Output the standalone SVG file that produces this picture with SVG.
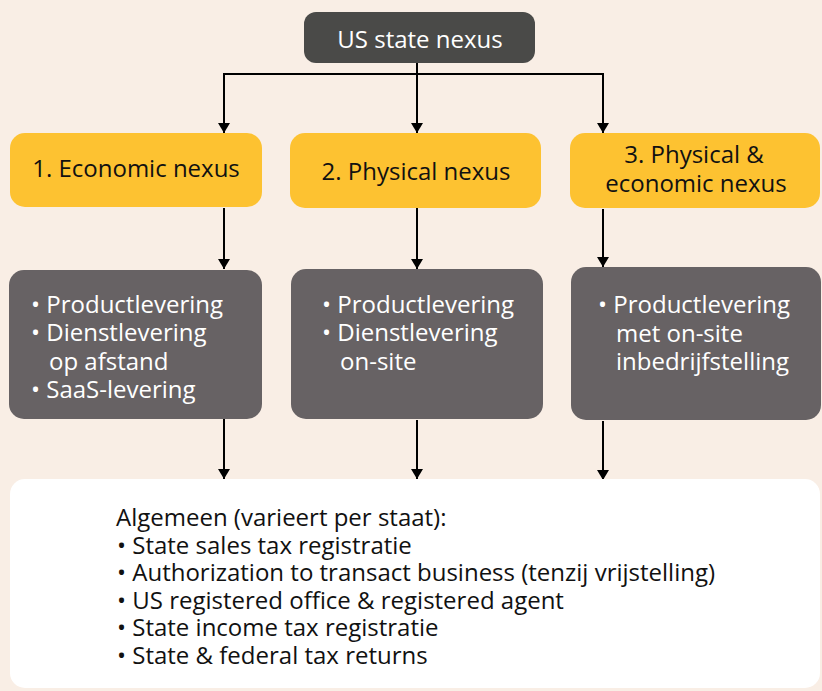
<svg xmlns="http://www.w3.org/2000/svg" width="822" height="691" viewBox="0 0 822 691">
<defs>
<marker id="arr" markerUnits="userSpaceOnUse" markerWidth="10" markerHeight="12" refX="10" refY="6" orient="auto" viewBox="0 0 10 12">
<path d="M0,0 L10,6 L0,12 Z" fill="#000"/>
</marker>
<style>
text{font-family:"Open Sans","Noto Sans","Liberation Sans",sans-serif;font-size:24px}
.w{fill:#ffffff}
.k{fill:#111111}
.yel{fill:#fdc231}
.gry{fill:#676264}
.ln{stroke:#000;stroke-width:2;fill:none}
</style>
</defs>
<rect x="0" y="0" width="822" height="691" fill="#f9eee5"/>
<g id="connectors">
<path class="ln" d="M417,63 V74 M223,74 H604"/>
<path class="ln" d="M224,74 V133" marker-end="url(#arr)"/>
<path class="ln" d="M417,74 V133" marker-end="url(#arr)"/>
<path class="ln" d="M603,74 V133" marker-end="url(#arr)"/>
<path class="ln" d="M224,208 V269" marker-end="url(#arr)"/>
<path class="ln" d="M417,208 V269" marker-end="url(#arr)"/>
<path class="ln" d="M603,209 V267" marker-end="url(#arr)"/>
<path class="ln" d="M224,419 V479" marker-end="url(#arr)"/>
<path class="ln" d="M417,420 V479" marker-end="url(#arr)"/>
<path class="ln" d="M603,421 V480" marker-end="url(#arr)"/>
</g>
<g id="top">
<rect x="304" y="12" width="231" height="51" rx="12" fill="#4a4a48"/>
<text x="420" y="48" text-anchor="middle" class="w">US state nexus</text>
</g>
<g id="economic">
<rect class="yel" x="10" y="133" width="252" height="74" rx="15"/>
<text x="136" y="177" text-anchor="middle" class="k">1. Economic nexus</text>
</g>
<g id="physical">
<rect class="yel" x="290" y="133" width="251" height="75" rx="15"/>
<text x="416" y="180" text-anchor="middle" class="k">2. Physical nexus</text>
</g>
<g id="both">
<rect class="yel" x="570" y="133" width="250" height="75" rx="15"/>
<text x="694" y="163" text-anchor="middle" class="k">3. Physical &amp;</text>
<text x="696" y="192" text-anchor="middle" class="k">economic nexus</text>
</g>
<g id="economic-items">
<rect class="gry" x="9" y="270" width="253" height="149" rx="15"/>
<text class="w" x="31" y="313">• Productlevering</text>
<text class="w" x="31" y="341">• Dienstlevering</text>
<text class="w" x="49" y="370">op afstand</text>
<text class="w" x="31" y="398">• SaaS-levering</text>
</g>
<g id="physical-items">
<rect class="gry" x="291" y="269" width="252" height="150" rx="15"/>
<text class="w" x="322" y="313">• Productlevering</text>
<text class="w" x="322" y="341">• Dienstlevering</text>
<text class="w" x="340" y="370">on-site</text>
</g>
<g id="both-items">
<rect class="gry" x="571" y="267" width="250" height="153" rx="15"/>
<text class="w" x="598" y="313">• Productlevering</text>
<text class="w" x="616" y="342">met on-site</text>
<text class="w" x="616" y="370">inbedrijfstelling</text>
</g>
<g id="general">
<rect x="10" y="479" width="810" height="209" rx="15" fill="#ffffff"/>
<text class="k" x="116" y="526">Algemeen (varieert per staat):</text>
<text class="k" x="117" y="554">• State sales tax registratie</text>
<text class="k" x="117" y="581">• Authorization to transact business (tenzij vrijstelling)</text>
<text class="k" x="117" y="609">• US registered office &amp; registered agent</text>
<text class="k" x="117" y="636">• State income tax registratie</text>
<text class="k" x="117" y="664">• State &amp; federal tax returns</text>
</g>
</svg>
